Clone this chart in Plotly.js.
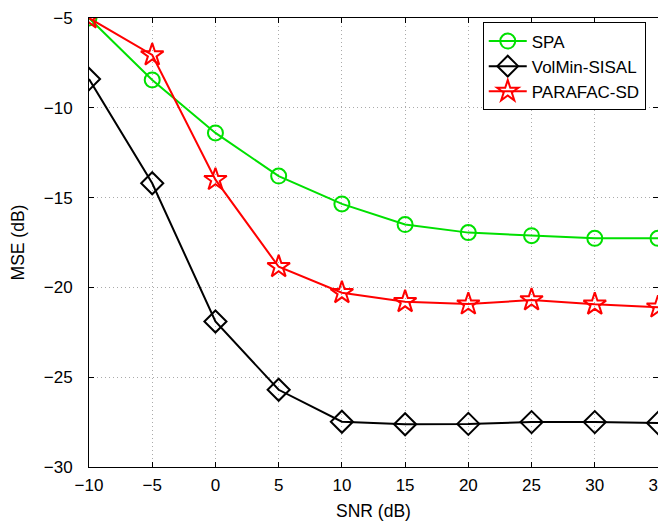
<!DOCTYPE html>
<html>
<head>
<meta charset="utf-8">
<script src="https://cdn.plot.ly/plotly-3.0.1.min.js"></script>
<style>html,body{margin:0;padding:0;background:#fff;}#chart{width:658px;height:521px;}</style>
</head>
<body>
<div id="chart"></div>
<script>
const snr = [-10, -5, 0, 5, 10, 15, 20, 25, 30, 35];
const spa = [-5.0, -8.45, -11.4, -13.8, -15.35, -16.5, -16.95, -17.12, -17.27, -17.27];
const volmin = [-8.4, -14.2, -21.9, -25.7, -27.48, -27.62, -27.6, -27.5, -27.5, -27.55];
const parafac = [-5.0, -7.06, -14.0, -18.85, -20.3, -20.8, -20.93, -20.7, -20.94, -21.1];
const names = ['SPA', 'VolMin-SISAL', 'PARAFAC-SD'];
const xTicks = [-10, -5, 0, 5, 10, 15, 20, 25, 30, 35];
const yTicks = [-30, -25, -20, -15, -10, -5];

const FONT = 'Liberation Sans, Arial, sans-serif';

const traces = [
  {x: snr, y: spa, name: names[0], mode: 'lines+markers',
   line: {color: '#00e000', width: 2},
   marker: {symbol: 'circle-open', size: 15, color: '#00e000', line: {width: 2}}},
  {x: snr, y: volmin, name: names[1], mode: 'lines+markers',
   line: {color: '#000000', width: 2},
   marker: {symbol: 'diamond-open', size: 17, color: '#000000', line: {width: 2}}},
  {x: snr, y: parafac, name: names[2], mode: 'lines+markers',
   line: {color: '#ff0000', width: 2},
   marker: {symbol: 'star-open', size: 17, color: '#ff0000', line: {width: 2}}}
];

const axisCommon = {
  showline: true, linecolor: '#000', linewidth: 1, mirror: 'ticks',
  ticks: 'inside', ticklen: 5, tickcolor: '#000',
  showgrid: true, gridcolor: '#aaaaaa', griddash: '1px,3px', gridwidth: 1,
  zeroline: false,
  tickfont: {family: FONT, size: 17, color: '#000'}
};

const layout = {
  width: 658, height: 521,
  margin: {l: 89, r: 0, t: 18, b: 54},
  paper_bgcolor: '#fff', plot_bgcolor: '#fff',
  font: {family: FONT, color: '#000'},
  xaxis: Object.assign({}, axisCommon, {
    range: [-10, 35], tickvals: xTicks,
    ticklabeloverflow: 'allow', ticklabelstandoff: 3,
    title: {text: 'SNR (dB)', font: {size: 17.5, family: FONT}, standoff: 12}
  }),
  yaxis: Object.assign({}, axisCommon, {
    range: [-30, -5], tickvals: yTicks,
    ticklabelstandoff: 12,
    title: {text: 'MSE (dB)', font: {size: 17.5, family: FONT}, standoff: 14}
  }),
  showlegend: true,
  legend: {
    x: 0.692, y: 0.99, xanchor: 'left', yanchor: 'top',
    bordercolor: '#000', borderwidth: 1, bgcolor: '#fff',
    font: {size: 17, family: FONT},
    tracegroupgap: 0, itemwidth: 38
  }
};

Plotly.newPlot('chart', traces, layout, {displayModeBar: false, staticPlot: true});
</script>
</body>
</html>
